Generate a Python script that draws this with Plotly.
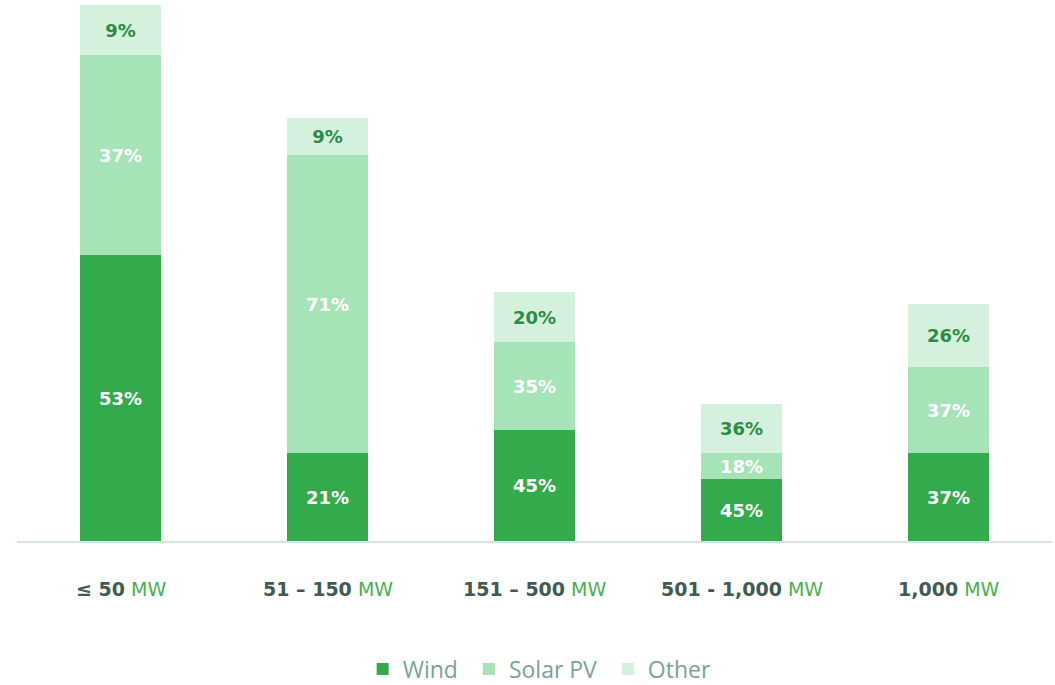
import plotly.graph_objects as go

categories = ["≤ 50", "51 – 150", "151 – 500", "501 - 1,000", "1,000"]
unit = "MW"
series_names = ["Wind", "Solar PV", "Other"]
# segment heights (relative units)
wind = [286, 88, 111, 62, 88]
solar = [200, 298, 88, 26, 86]
other = [50, 37, 50, 49, 63]
# labels shown on segments
wind_pct = ["53%", "21%", "45%", "45%", "37%"]
solar_pct = ["37%", "71%", "35%", "18%", "37%"]
other_pct = ["9%", "9%", "20%", "36%", "26%"]

colors = ["#33AB4C", "#A6E3B7", "#D3F1DC"]
text_colors = ["#FFFFFF", "#FFFFFF", "#2E8B45"]
label_font = "DejaVu Sans"
legend_pad = ["\u00a0", "\u00a0", ""]

fig = go.Figure()
for name, vals, labels, col, tcol, pad in zip(series_names, [wind, solar, other],
                                              [wind_pct, solar_pct, other_pct], colors,
                                              text_colors, legend_pad):
    fig.add_trace(go.Bar(
        x=list(range(len(categories))), y=vals, name=name + pad,
        marker=dict(color=col, line=dict(width=0)),
        text=[f"<b>{t}</b>" for t in labels],
        textposition="inside", insidetextanchor="middle", textangle=0,
        constraintext="none",
        textfont=dict(family=label_font, size=18, color=tcol),
        hoverinfo="skip",
    ))

for i, c in enumerate(categories):
    fig.add_annotation(
        x=i, xref="x", y=-0.0896, yref="paper", yanchor="middle",
        text=f"<b>{c}</b> <span style='color:#4CB050'>{unit}</span>",
        showarrow=False,
        font=dict(family=label_font, size=19, color="#3F5B52"),
    )

fig.update_layout(
    barmode="stack",
    bargap=0.604,
    width=1055, height=685, autosize=False,
    margin=dict(l=17, r=3, t=5, b=144, autoexpand=False),
    paper_bgcolor="white", plot_bgcolor="white",
    xaxis=dict(range=[-0.5, 4.5], showticklabels=False, showgrid=False, zeroline=False,
               showline=True, linecolor="#D6E6DD", linewidth=2, ticks=""),
    yaxis=dict(range=[0, 536], visible=False, showgrid=False, zeroline=False),
    legend=dict(orientation="h", x=0.505, xanchor="center", y=-0.2388, yanchor="middle",
                font=dict(family="Open Sans", size=23, color="#7AA39C"),
                itemwidth=30, traceorder="normal", borderwidth=0),
    showlegend=True,
    hovermode=False,
)

fig.write_html("out.html",
               config={"displayModeBar": False, "responsive": False},
               post_script="document.body.style.margin='0';document.body.style.overflow='hidden';")
